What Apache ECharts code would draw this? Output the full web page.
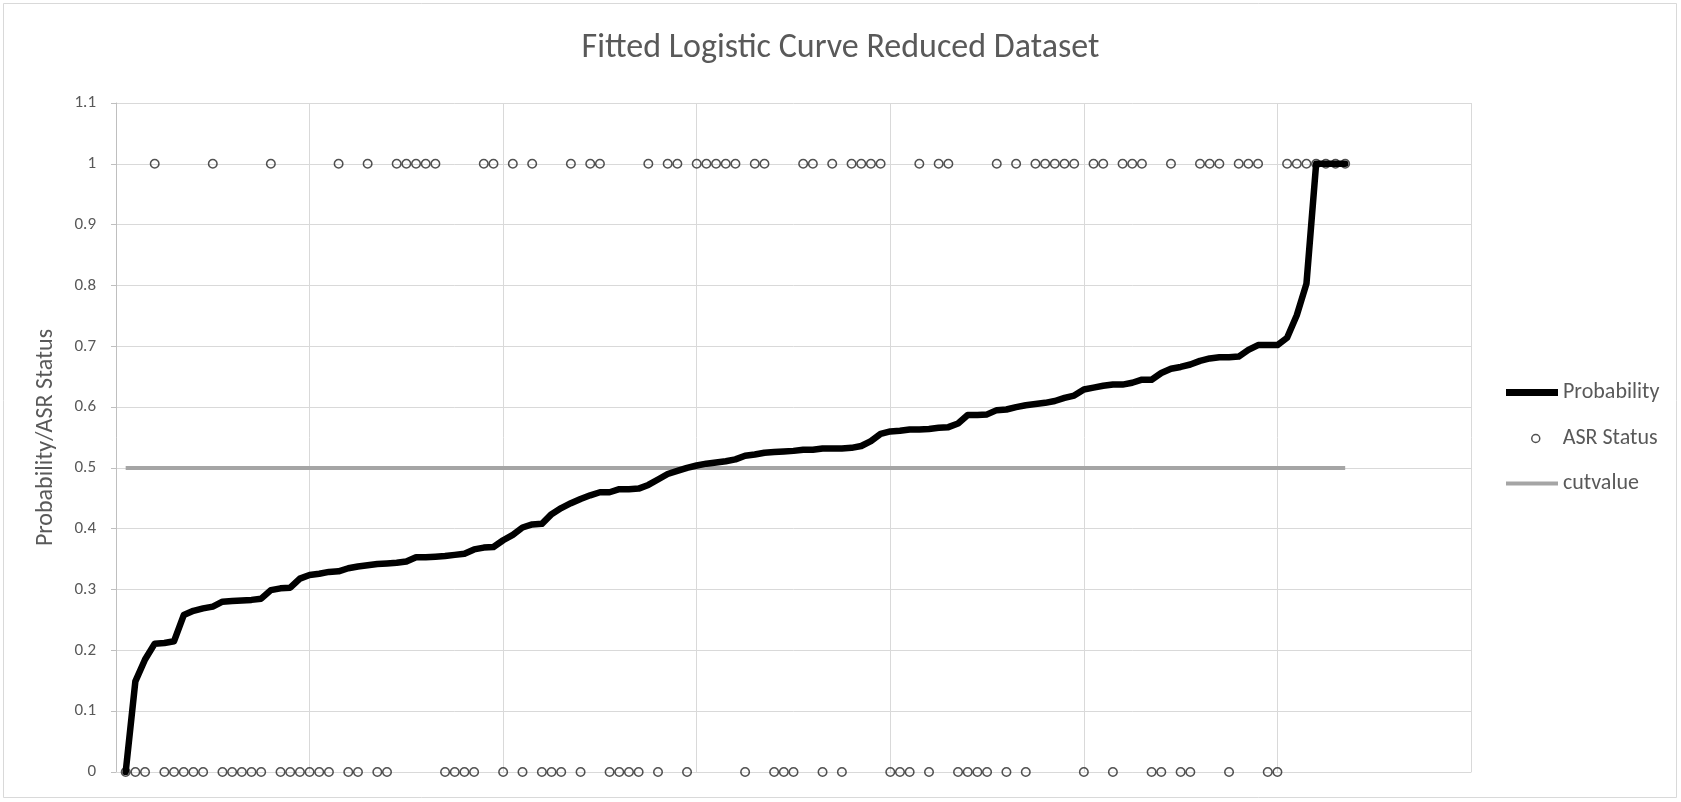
<!DOCTYPE html>
<html>
<head>
<meta charset="utf-8">
<script src="https://cdn.jsdelivr.net/npm/echarts@6/dist/echarts.min.js"></script>
<style>
html,body{margin:0;padding:0;background:#fff;}
#chart{width:1681px;height:802px;}
</style>
</head>
<body>
<div id="chart"></div>
<script>
// Probability (sorted) for observations 1..127
const probability = [
  0, 0.149, 0.185, 0.211, 0.212, 0.215, 0.258, 0.265, 0.269, 0.272,
  0.280, 0.281, 0.282, 0.283, 0.285, 0.299, 0.302, 0.303, 0.318, 0.324,
  0.326, 0.329, 0.330, 0.335, 0.338, 0.340, 0.342, 0.343, 0.344, 0.346,
  0.353, 0.353, 0.354, 0.355, 0.357, 0.359, 0.366, 0.369, 0.370, 0.381,
  0.390, 0.402, 0.407, 0.408, 0.424, 0.434, 0.442, 0.449, 0.455, 0.460,
  0.460, 0.465, 0.465, 0.466, 0.472, 0.481, 0.490, 0.495, 0.500, 0.504,
  0.507, 0.509, 0.511, 0.514, 0.520, 0.522, 0.525, 0.526, 0.527, 0.528,
  0.530, 0.530, 0.532, 0.532, 0.532, 0.533, 0.536, 0.544, 0.556, 0.560,
  0.561, 0.563, 0.563, 0.564, 0.566, 0.567, 0.573, 0.587, 0.587, 0.588,
  0.595, 0.596, 0.600, 0.603, 0.605, 0.607, 0.610, 0.615, 0.619, 0.629,
  0.632, 0.635, 0.637, 0.637, 0.640, 0.645, 0.645, 0.656, 0.663, 0.666,
  0.670, 0.676, 0.680, 0.682, 0.682, 0.683, 0.694, 0.702, 0.702, 0.702,
  0.714, 0.751, 0.803, 1, 1, 1, 1
];
// ASR Status (0/1) for observations 1..127
const asrStatus = [
  0,0,0,1,0,0,0,0,0,1,
  0,0,0,0,0,1,0,0,0,0,
  0,0,1,0,0,1,0,0,1,1,
  1,1,1,0,0,0,0,1,1,0,
  1,0,1,0,0,0,1,0,1,1,
  0,0,0,0,1,0,1,1,0,1,
  1,1,1,1,0,1,1,0,0,0,
  1,1,0,1,0,1,1,1,1,0,
  0,0,1,0,1,1,0,0,0,0,
  1,0,1,0,1,1,1,1,1,0,
  1,1,0,1,1,1,0,0,1,0,
  0,1,1,1,0,1,1,1,0,0,
  1,1,1,1,1,1,1
];
// cut value line endpoints
const cutX = [1, 127];
const cutY = [0.5, 0.5];
const yTicks = [0, 0.1, 0.2, 0.3, 0.4, 0.5, 0.6, 0.7, 0.8, 0.9, 1, 1.1];

const obs = probability.map((_, i) => i + 1);
const probData = obs.map((x, i) => [x, probability[i]]);
const asrData = obs.map((x, i) => [x, asrStatus[i]]);
const cutData = cutX.map((x, i) => [x, cutY[i]]);

const FONT = 'Carlito, Lato, sans-serif';
const TXT = '#595959';

const chart = echarts.init(document.getElementById('chart'), null, {renderer: 'canvas'});
chart.setOption({
  animation: false,
  backgroundColor: '#fff',
  title: {
    text: 'Fitted Logistic Curve Reduced Dataset',
    left: 'center',
    top: 31,
    padding: 0,
    textStyle: {fontFamily: FONT, fontSize: 34, fontWeight: 'normal', color: TXT}
  },
  graphic: [{
    type: 'rect',
    shape: {x: 3.5, y: 3.5, width: 1673, height: 794},
    style: {fill: 'none', stroke: '#d9d9d9', lineWidth: 1},
    silent: true
  }],
  legend: [
    {
      data: [{name: 'Probability', icon: 'rect', itemStyle: {color: '#000', borderWidth: 0}}],
      left: 1506, top: 381.5, padding: 0,
      itemWidth: 52, itemHeight: 7,
      textStyle: {fontFamily: FONT, fontSize: 22, color: TXT}
    },
    {
      data: [{name: 'ASR Status', icon: 'circle', itemStyle: {color: 'rgba(0,0,0,0)', borderColor: '#262626', borderWidth: 1.5}}],
      left: 1531, top: 427.5, padding: 0,
      itemWidth: 8, itemHeight: 8,
      textStyle: {fontFamily: FONT, fontSize: 22, color: TXT, padding: [0, 0, 0, 18]}
    },
    {
      data: [{name: 'cutvalue', icon: 'rect', itemStyle: {color: '#a5a5a5', borderWidth: 0}}],
      left: 1506, top: 472.5, padding: 0,
      itemWidth: 52, itemHeight: 4,
      textStyle: {fontFamily: FONT, fontSize: 22, color: TXT}
    }
  ],
  grid: {left: 116, right: 210, top: 103, bottom: 30, containLabel: false},
  xAxis: {
    type: 'value',
    min: 0, max: 140, interval: 20,
    axisLine: {show: true, lineStyle: {color: '#d9d9d9', width: 1}},
    axisTick: {show: false},
    axisLabel: {show: false},
    splitLine: {show: true, lineStyle: {color: '#d9d9d9', width: 1}}
  },
  yAxis: {
    type: 'value',
    min: 0, max: 1.1, interval: 0.1,
    name: 'Probability/ASR Status',
    nameLocation: 'middle',
    nameRotate: 90,
    nameGap: 58,
    nameTextStyle: {fontFamily: FONT, fontSize: 24, color: TXT},
    axisLine: {show: true, lineStyle: {color: '#bfbfbf', width: 1}},
    axisTick: {show: true, inside: false, length: 5, lineStyle: {color: '#bfbfbf'}},
    axisLabel: {
      fontFamily: FONT, fontSize: 17, color: TXT, margin: 20,
      formatter: v => {
        const t = yTicks.find(a => Math.abs(a - v) < 1e-6);
        return String(t !== undefined ? t : v);
      }
    },
    splitLine: {show: true, lineStyle: {color: '#d9d9d9', width: 1}}
  },
  series: [
    {
      name: 'ASR Status',
      type: 'scatter',
      data: asrData,
      symbol: 'circle',
      symbolSize: 8.5,
      itemStyle: {color: 'rgba(0,0,0,0)', borderColor: '#262626', borderWidth: 1.5},
      z: 1
    },
    {
      name: 'cutvalue',
      type: 'line',
      data: cutData,
      showSymbol: false,
      itemStyle: {color: '#a5a5a5'},
      lineStyle: {color: '#a5a5a5', width: 4},
      z: 2
    },
    {
      name: 'Probability',
      type: 'line',
      data: probData,
      showSymbol: false,
      itemStyle: {color: '#000'},
      lineStyle: {color: '#000', width: 6.5, join: 'round', cap: 'round'},
      z: 3
    }
  ]
});
</script>
</body>
</html>
